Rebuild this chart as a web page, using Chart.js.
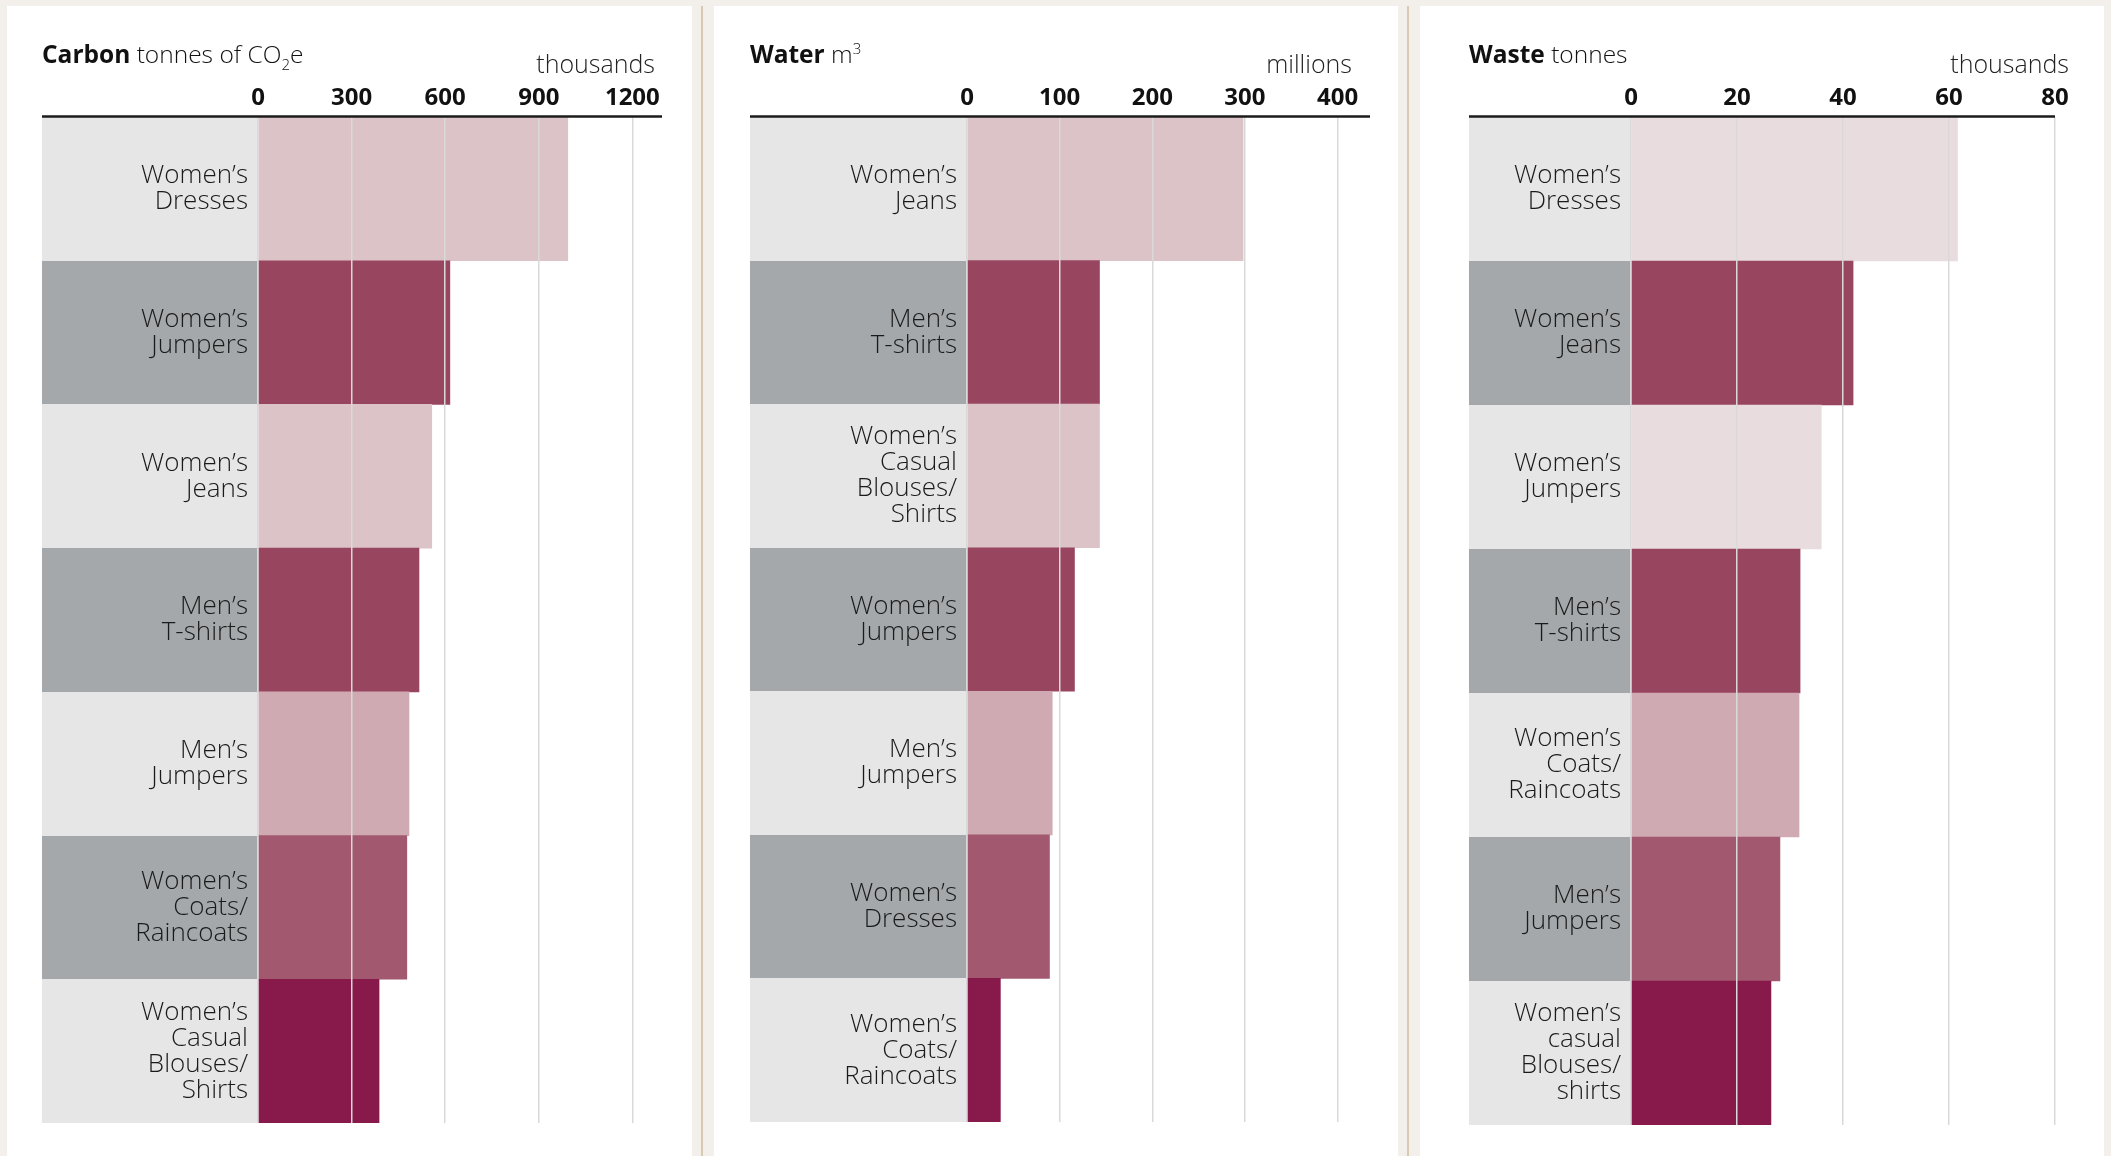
<!DOCTYPE html>
<html>
<head>
<meta charset="utf-8">
<script src="https://cdn.jsdelivr.net/npm/chart.js@4.4.1/dist/chart.umd.min.js"></script>
<style>
html,body{margin:0;padding:0;}
body{width:2111px;height:1156px;background:#f3f0eb;position:relative;overflow:hidden;font-family:'Open Sans',sans-serif;}
.panel{position:absolute;top:6px;height:1150px;background:#fff;}
.panel canvas{position:absolute;left:0;top:0;}
.divider{position:absolute;top:6px;height:1150px;width:2px;background:#d6cab2;}
.title{position:absolute;top:42px;font-size:24.5px;line-height:24px;color:#111;white-space:nowrap;font-weight:300;}
.title b{font-weight:700;}
.sub{font-size:15px;position:relative;top:7px;}
.sup{font-size:15px;position:relative;top:-9px;}
.unit{position:absolute;top:51px;width:200px;font-size:25px;line-height:24px;color:#222;font-weight:300;text-align:right;white-space:nowrap;}
</style>
</head>
<body>
<div class="panel" style="left:7px;width:685px;"><canvas id="carbon" width="685" height="1150"></canvas></div>
<div class="divider" style="left:701px;"></div>
<div class="panel" style="left:714px;width:684px;"><canvas id="water" width="684" height="1150"></canvas></div>
<div class="divider" style="left:1407px;"></div>
<div class="panel" style="left:1420px;width:684px;"><canvas id="waste" width="684" height="1150"></canvas></div>

<div class="title" style="left:42px;"><b>Carbon</b> tonnes of CO<span class="sub">2</span>e</div>
<div class="unit" style="left:455px;">thousands</div>
<div class="title" style="left:750px;"><b>Water</b> m<span class="sup">3</span></div>
<div class="unit" style="left:1152px;">millions</div>
<div class="title" style="left:1469px;"><b>Waste</b> tonnes</div>
<div class="unit" style="left:1869px;">thousands</div>

<script>
// ---- data ----
const carbonCategories = [["Women’s","Dresses"],["Women’s","Jumpers"],["Women’s","Jeans"],["Men’s","T-shirts"],["Men’s","Jumpers"],["Women’s","Coats/","Raincoats"],["Women’s","Casual","Blouses/","Shirts"]];
const carbonValues = [993, 615, 557, 516, 484, 477, 388];
const carbonTicks = [0, 300, 600, 900, 1200];

const waterCategories = [["Women’s","Jeans"],["Men’s","T-shirts"],["Women’s","Casual","Blouses/","Shirts"],["Women’s","Jumpers"],["Men’s","Jumpers"],["Women’s","Dresses"],["Women’s","Coats/","Raincoats"]];
const waterValues = [298, 143, 143, 116, 92, 89, 36];
const waterTicks = [0, 100, 200, 300, 400];

const wasteCategories = [["Women’s","Dresses"],["Women’s","Jeans"],["Women’s","Jumpers"],["Men’s","T-shirts"],["Women’s","Coats/","Raincoats"],["Men’s","Jumpers"],["Women’s","casual","Blouses/","shirts"]];
const wasteValues = [61.6, 41.9, 35.9, 31.9, 31.7, 28.1, 26.4];
const wasteTicks = [0, 20, 40, 60, 80];

// ---- styles ----
const COLORS_A = ['#dcc3c8','#98465f','#dcc3c8','#98465f','#cfaab3','#a2586e','#88194b'];
const COLORS_B = ['#e8dcdf','#98465f','#e8dcdf','#98465f','#cfaab3','#a2586e','#88194b'];
const LABEL_LIGHT = '#e6e6e6';
const LABEL_DARK = '#a5a8ab';

function makeChart(id, cats, vals, ticks, axisMax, barColors, L) {
  const bandPlugin = {
    id: 'bands',
    beforeDraw(chart) {
      const ctx = chart.ctx, y = chart.scales.y, x = chart.scales.x, a = chart.chartArea;
      const x0 = Math.round(x.getPixelForValue(0));
      const n = cats.length;
      ctx.save();
      for (let i = 0; i < n; i++) {
        const top = i === 0 ? a.top : (y.getPixelForValue(i - 1) + y.getPixelForValue(i)) / 2;
        const bot = i === n - 1 ? a.bottom : (y.getPixelForValue(i) + y.getPixelForValue(i + 1)) / 2;
        ctx.fillStyle = i % 2 === 0 ? LABEL_LIGHT : LABEL_DARK;
        ctx.fillRect(Math.round(y.left), Math.round(top), x0 - Math.round(y.left), Math.round(bot) - Math.round(top));
      }
      ctx.restore();
    },
    afterDraw(chart) {
      const ctx = chart.ctx, a = chart.chartArea, y = chart.scales.y;
      ctx.save();
      ctx.strokeStyle = '#1b1b1b';
      ctx.lineWidth = 2.5;
      ctx.beginPath();
      ctx.moveTo(y.left, a.top - 0.5);
      ctx.lineTo(a.right, a.top - 0.5);
      ctx.stroke();
      ctx.restore();
    }
  };
  return new Chart(document.getElementById(id), {
    type: 'bar',
    data: {
      labels: cats,
      datasets: [{ data: vals, backgroundColor: barColors, borderWidth: 0, barPercentage: 1, categoryPercentage: 1 }]
    },
    options: {
      indexAxis: 'y',
      responsive: false,
      animation: false,
      layout: { padding: { left: L.padLeft, right: L.padRight, top: 0, bottom: L.padBottom } },
      plugins: { legend: { display: false }, tooltip: { enabled: false } },
      scales: {
        x: {
          position: 'top', min: 0, max: axisMax,
          afterBuildTicks: s => { s.ticks = ticks.map(v => ({ value: v })); },
          afterFit: s => { s.height = L.axisHeight; s.paddingLeft = 0; s.paddingRight = 0; },
          grid: { color: '#d9d9d9', lineWidth: 1.5, drawTicks: false, z: 1 },
          border: { display: false },
          ticks: {
            padding: 4, color: '#111', autoSkip: false, maxRotation: 0,
            font: { family: "'Open Sans', sans-serif", size: 24, weight: 'bold', lineHeight: 1.2 },
            callback: v => String(v)
          }
        },
        y: {
          afterFit: s => { s.width = L.labelWidth; s.paddingTop = 0; s.paddingBottom = 0; },
          grid: { display: false, drawTicks: false },
          border: { display: false },
          ticks: {
            padding: 10, color: '#1a1a1a', autoSkip: false,
            font: { family: "'Open Sans', sans-serif", size: 26, weight: 300, lineHeight: 1.0 }
          }
        }
      }
    },
    plugins: [bandPlugin]
  });
}

makeChart('carbon', carbonCategories, carbonValues, carbonTicks, 1295, COLORS_A,
  { padLeft: 35, padRight: 30, padBottom: 33, axisHeight: 111, labelWidth: 216 });
makeChart('water', waterCategories, waterValues, waterTicks, 435, COLORS_A,
  { padLeft: 36, padRight: 28, padBottom: 34, axisHeight: 111, labelWidth: 217 });
makeChart('waste', wasteCategories, wasteValues, wasteTicks, 80, COLORS_B,
  { padLeft: 49, padRight: 49, padBottom: 31, axisHeight: 111, labelWidth: 162 });
</script>
</body>
</html>
